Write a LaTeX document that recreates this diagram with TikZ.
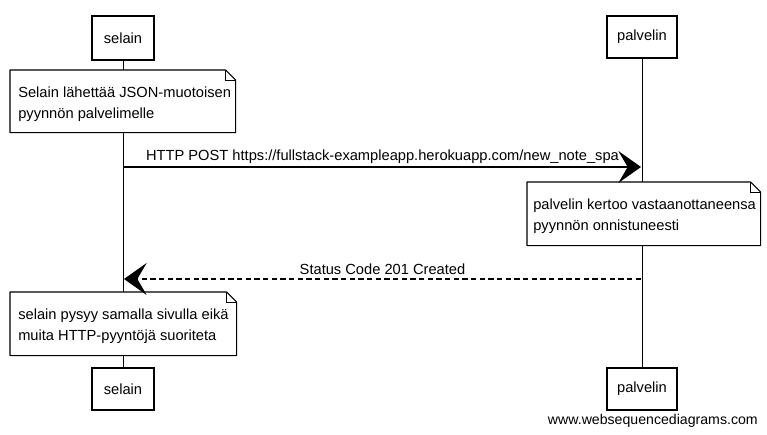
\documentclass[tikz,border=0pt]{standalone}
\usepackage{fontspec}
\setmainfont{Liberation Sans}
\usetikzlibrary{arrows.meta}
\tikzset{
  px/.style={x=0.75pt,y=-0.75pt},
  actor/.style={draw,line width=0.8pt,fill=white,inner sep=0pt,font=\fontsize{11pt}{13pt}\selectfont},
  notetext/.style={inner xsep=6pt,inner ysep=0pt,align=left,font=\fontsize{11pt}{15.75pt}\selectfont},
  noteline/.style={draw,line width=0.8pt,fill=white,line join=round},
  lifeline/.style={line width=0.6pt},
  msg/.style={line width=0.9pt,-{Stealth[length=17pt,width=24pt,inset=7pt]}},
  reply/.style={msg,dashed,dash pattern=on 4pt off 2.5pt},
  lbl/.style={font=\fontsize{11pt}{13pt}\selectfont,inner sep=0pt}
}
\newcommand{\notebox}[1]{%
  \path[noteline] (#1.north west) -- ([xshift=-7.5pt]#1.north east) -- ([yshift=-7.5pt]#1.north east) -- (#1.south east) -- (#1.south west) -- cycle;
  \draw[line width=0.5pt] ([xshift=-7.5pt]#1.north east) -- ([xshift=-7.5pt,yshift=-7.5pt]#1.north east) -- ([yshift=-7.5pt]#1.north east);
}
\begin{document}
\begin{tikzpicture}[px]
\useasboundingbox (0,0) rectangle (767,435);
% actors
\node[actor,minimum width=46.5pt,minimum height=33pt] (s1) at (123,38) {selain};
\node[actor,minimum width=52.5pt,minimum height=31.5pt] (p1) at (642,37) {palvelin};
\node[actor,minimum width=46.5pt,minimum height=31.5pt] (s2) at (123,389) {selain};
\node[actor,minimum width=52.5pt,minimum height=31.5pt] (p2) at (642,389) {palvelin};
% lifelines
\draw[lifeline] (s1.south) -- (s2.north);
\draw[lifeline] (p1.south) -- (p2.north);
% note outlines
\node[notetext,anchor=north west,minimum height=46.5pt,text width=156.75pt] (n1) at (10,70)
  {\phantom{x}};
\notebox{n1}
\node[notetext,anchor=north west,minimum height=47.25pt,text width=162.75pt] (n2) at (527,182)
  {\phantom{x}};
\notebox{n2}
\node[notetext,anchor=north west,minimum height=47.25pt,text width=157.5pt] (n3) at (10,292)
  {\phantom{x}};
\notebox{n3}
% note texts
\node[notetext,anchor=west,yshift=-2pt] (t1) at (n1.west)
  {Selain lähettää JSON-muotoisen\\pyynnön palvelimelle};
\node[notetext,anchor=west,inner xsep=4.5pt,yshift=-2pt] (t2) at (n2.west)
  {palvelin kertoo vastaanottaneensa\\pyynnön onnistuneesti};
\node[notetext,anchor=west,yshift=-1.5pt] (t3) at (n3.west)
  {selain pysyy samalla sivulla eikä\\muita HTTP-pyyntöjä suoriteta};
% messages
\coordinate (a1) at (124,167);
\coordinate (b1) at (641,167);
\draw[msg] (a1) -- (b1) node[lbl,midway,above=2pt] {HTTP POST https://fullstack-exampleapp.herokuapp.com/new\_note\_spa};
\coordinate (a2) at (641,279);
\coordinate (b2) at (124,279);
\draw[reply] (a2) -- (b2) node[lbl,midway,above=2.5pt] {Status Code 201 Created};
% watermark
\node[lbl,anchor=east,font=\fontsize{10.6pt}{13pt}\selectfont] (w) at (758,421) {www.websequencediagrams.com};
\end{tikzpicture}
\end{document}
